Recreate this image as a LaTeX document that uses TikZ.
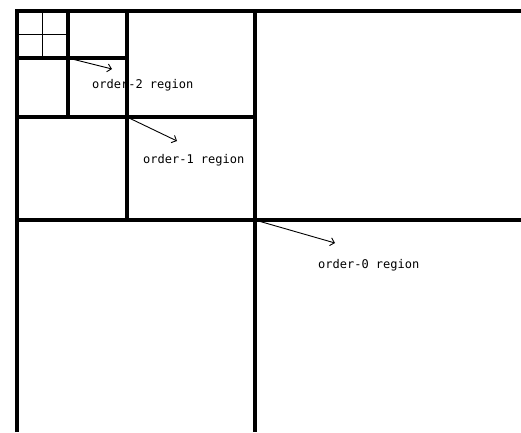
\documentclass[tikz,border=0pt]{standalone}
\usepackage{fontspec}
\newfontfamily\regionfont{DejaVu Sans Mono}
\usetikzlibrary{arrows.meta,positioning}
\begin{document}
\begin{tikzpicture}[x=1pt,y=-1pt,every node/.style={font=\regionfont\fontsize{12}{14}\selectfont,inner sep=0pt},
  wall/.style={line width=3.2pt},
  thin wall/.style={line width=1pt},
  pointer/.style={line width=.9pt,-{Straight Barb[length=4pt,width=8pt]}}]
\useasboundingbox (0,0) rectangle (521,432);
\coordinate (c0) at (255,220);
\coordinate (c1) at (127,117);
\coordinate (c2) at (68,58);
\coordinate (c3) at (42,34);
\coordinate (e0) at (335,243);
\coordinate (e1) at (177,141);
\coordinate (e2) at (112,69);
\draw[wall] (17,432)--(17,11)--(521,11);
\draw[wall] (17,220)--(521,220);
\draw[wall] (255,11)--(255,432);
\draw[wall] (127,11)--(127,220);
\draw[wall] (17,117)--(255,117);
\draw[wall] (68,11)--(68,117);
\draw[wall] (17,58)--(127,58);
\draw[thin wall] (42,11)--(42,58);
\draw[thin wall] (17,34)--(68,34);
\fill (c0) circle (2.4pt);\draw[pointer] (c0)--(e0);
\fill (c1) circle (2.4pt);\draw[pointer] (c1)--(e1);
\fill (c2) circle (2.4pt);\draw[pointer] (c2)--(e2);
\node[anchor=west] (r0) at (318,265) {order-0 region};
\node[anchor=west] (r1) at (143,160) {order-1 region};
\node[anchor=west] (r2) at (92,85) {order-2 region};
\end{tikzpicture}
\end{document}
